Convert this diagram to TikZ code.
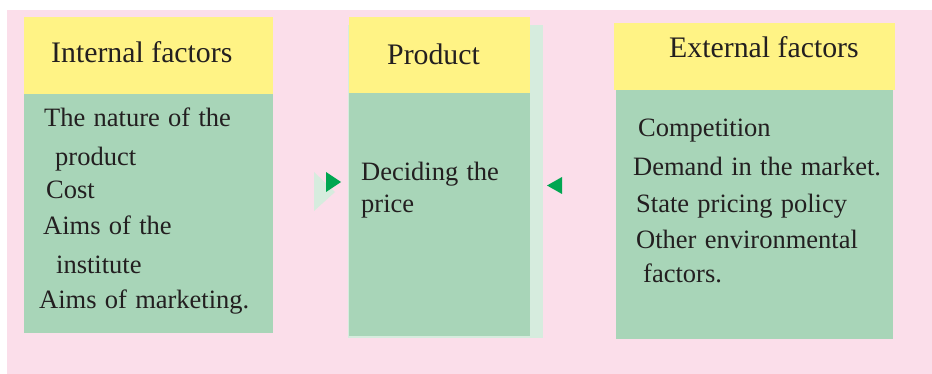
\documentclass[tikz,border=0pt]{standalone}
\usepackage{fontspec}
\setmainfont{Liberation Serif}[WordSpace=1.25]
\newfontfamily\headingfont{Liberation Serif}
\definecolor{bgpink}{RGB}{251,222,234}
\definecolor{headyellow}{RGB}{255,243,133}
\definecolor{bodygreen}{RGB}{168,213,184}
\definecolor{paleshadow}{RGB}{214,236,222}
\definecolor{arrowgreen}{RGB}{0,166,81}
\definecolor{inkgray}{RGB}{35,31,32}
\begin{document}
\begin{tikzpicture}[x=1pt,y=-1pt,
  panel/.style={anchor=north west,inner sep=0pt,outer sep=0pt,draw=none},
  headbox/.style={panel,fill=headyellow},
  bodybox/.style={panel,fill=bodygreen},
  shadowbox/.style={panel,fill=paleshadow},
  title/.style={anchor=base west,inner sep=0pt,text=inkgray,font=\headingfont\fontsize{29.8}{34}\selectfont},
  item/.style={anchor=base west,inner sep=0pt,text=inkgray,font=\fontsize{26.5}{30}\selectfont}]
\useasboundingbox (0,0) rectangle (932,374);
% page background
\fill[bgpink] (7,10) rectangle (932,374);

% left column: internal factors
\node[headbox,minimum width=249pt,minimum height=77pt] (inthead) at (24,17) {};
\node[bodybox,minimum width=249pt,minimum height=239pt] (intbody) at (24,94) {};
\node[title] (intt) at (51,63) {Internal factors};
\node[item] (i1) at (44,127) {The nature of the};
\node[item] (i2) at (55,166) {product};
\node[item] (i3) at (46,199) {Cost};
\node[item] (i4) at (43,235) {Aims of the};
\node[item] (i5) at (56,273) {institute};
\node[item] (i6) at (39,308) {Aims of marketing.};

% middle column: product, with its pale offset shadow
\node[shadowbox,minimum width=195pt,minimum height=313pt] (prodshadow) at (348,25) {};
\node[headbox,minimum width=181pt,minimum height=76pt] (prodhead) at (349,17) {};
\node[bodybox,minimum width=181pt,minimum height=243pt] (prodbody) at (349,93) {};
\node[title] (prodt) at (387,65) {Product};
\node[item] (p1) at (361,181) {Deciding the};
\node[item] (p2) at (361,213) {price};

% right column: external factors
\node[headbox,minimum width=281pt,minimum height=67pt] (exthead) at (614,23) {};
\node[bodybox,minimum width=277pt,minimum height=249pt] (extbody) at (616,90) {};
\node[title] (extt) at (669,58) {External factors};
\node[item] (e1) at (638,137) {Competition};
\node[item] (e2) at (633,176) {Demand in the market.};
\node[item] (e3) at (636,213) {State pricing policy};
\node[item] (e4) at (636,248) {Other environmental};
\node[item] (e5) at (643,283) {factors.};

% arrowheads pointing into the product column
\fill[paleshadow] (314,172) -- (335,192) -- (314,211) -- cycle;
\fill[arrowgreen] (326,172) -- (341,182) -- (326,192) -- cycle;
\fill[arrowgreen] (562,177) -- (547,185.5) -- (562,194) -- cycle;
\end{tikzpicture}
\end{document}
